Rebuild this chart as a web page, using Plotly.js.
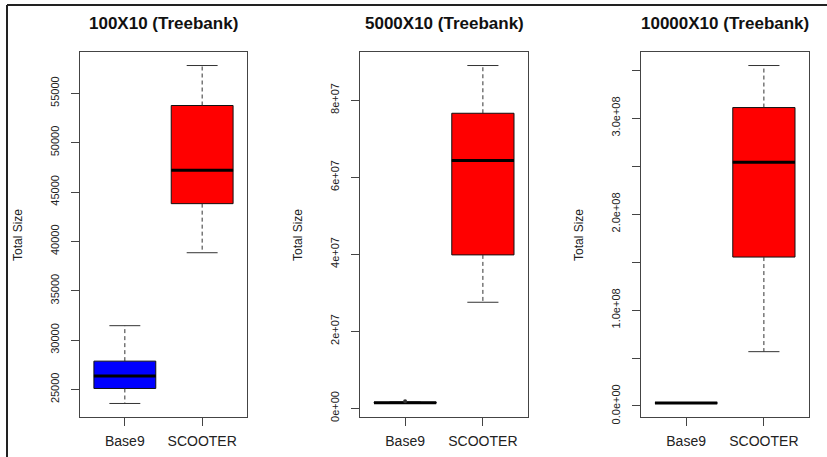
<!DOCTYPE html>
<html>
<head>
<meta charset="utf-8">
<script src="https://cdn.plot.ly/plotly-3.0.1.min.js"></script>
<style>html,body{margin:0;padding:0;background:#fff;}#chart{width:827px;height:457px;}</style>
</head>
<body>
<div id="chart"></div>
<script>
// ---- data ----
const categories = ['Base9', 'SCOOTER'];
const panelTitles = ['100X10 (Treebank)', '5000X10 (Treebank)', '10000X10 (Treebank)'];
const yTitle = 'Total Size';

// per panel, per category: [lower whisker, Q1, median, Q3, upper whisker]
const stats100 = [
  [23580, 25100, 26360, 27870, 31460],
  [38850, 43820, 47200, 53760, 57810]
];
const stats5000 = [
  [1.2e6, 1.3e6, 1.4e6, 1.5e6, 1.6e6],
  [2.75e7, 3.98e7, 6.43e7, 7.66e7, 8.90e7]
];
const stats10000 = [
  [2.6e6, 2.9e6, 3.1e6, 3.3e6, 3.5e6],
  [5.66e7, 1.552e8, 2.54e8, 3.11e8, 3.548e8]
];
// outliers: [categoryIndex, value]
const outliers100 = [];
const outliers5000 = [[0, 1.8e6]];
const outliers10000 = [];

const tickVals100 = [25000, 30000, 35000, 40000, 45000, 50000, 55000];
const tickText100 = ['25000', '30000', '35000', '40000', '45000', '50000', '55000'];
const tickVals5000 = [0, 2e7, 4e7, 6e7, 8e7];
const tickText5000 = ['0e+00', '2e+07', '4e+07', '6e+07', '8e+07'];
const tickVals10000 = [0, 5e7, 1e8, 1.5e8, 2e8, 2.5e8, 3e8, 3.5e8];
const tickText10000 = ['0.0e+00', '', '1.0e+08', '', '2.0e+08', '', '3.0e+08', ''];

const boxColors = ['#0000FF', '#FF0000'];

// ---- layout helpers ----
const W = 827, H = 457;
const panels = [
  {stats: stats100, outl: outliers100, tv: tickVals100, tt: tickText100, px: [80, 247]},
  {stats: stats5000, outl: outliers5000, tv: tickVals5000, tt: tickText5000, px: [360, 528]},
  {stats: stats10000, outl: outliers10000, tv: tickVals10000, tt: tickText10000, px: [641, 809]}
];
const plotTop = 52, plotBottom = 417;
const yDomain = [1 - plotBottom / H, 1 - plotTop / H];
const FONT = 'Liberation Sans, Arial, Helvetica, sans-serif';
const BW = 0.8;

const data = [];
const layout = {
  width: W, height: H,
  margin: {l: 0, r: 0, t: 0, b: 0},
  paper_bgcolor: '#fff', plot_bgcolor: '#fff',
  showlegend: false,
  font: {family: FONT, color: '#222'},
  annotations: [],
  shapes: [
    {type: 'line', xref: 'paper', yref: 'paper', x0: 7 / W, x1: 7 / W, y0: 0, y1: 1 - 5 / H, line: {color: '#222', width: 2}},
    {type: 'line', xref: 'paper', yref: 'paper', x0: 7 / W, x1: 1, y0: 1 - 5 / H, y1: 1 - 5 / H, line: {color: '#222', width: 2}}
  ]
};

panels.forEach((p, i) => {
  const n = i === 0 ? '' : String(i + 1);
  const xa = 'x' + n, ya = 'y' + n;
  // boxes
  p.stats.forEach((s, c) => {
    data.push({
      type: 'box', xaxis: xa, yaxis: ya, x: [c + 1],
      q1: [s[1]], median: [s[2]], q3: [s[3]], lowerfence: [s[1]], upperfence: [s[3]],
      width: BW, whiskerwidth: 0, boxpoints: false,
      fillcolor: boxColors[c], line: {color: '#111', width: 1},
      hoverinfo: 'skip'
    });
  });
  // whiskers (dashed), caps, medians
  const wx = [], wy = [], cx = [], cy = [], mx = [], my = [];
  p.stats.forEach((s, c) => {
    const x = c + 1;
    wx.push(x, x, null, x, x, null); wy.push(s[3], s[4], null, s[1], s[0], null);
    cx.push(x - BW / 4, x + BW / 4, null, x - BW / 4, x + BW / 4, null);
    cy.push(s[4], s[4], null, s[0], s[0], null);
    mx.push(x - BW / 2, x + BW / 2, null); my.push(s[2], s[2], null);
  });
  data.push({type: 'scatter', mode: 'lines', xaxis: xa, yaxis: ya, x: wx, y: wy,
    line: {color: '#333', width: 1, dash: '4px,3px'}, hoverinfo: 'skip'});
  data.push({type: 'scatter', mode: 'lines', xaxis: xa, yaxis: ya, x: cx, y: cy,
    line: {color: '#333', width: 1}, hoverinfo: 'skip'});
  data.push({type: 'scatter', mode: 'lines', xaxis: xa, yaxis: ya, x: mx, y: my,
    line: {color: '#000', width: 3}, hoverinfo: 'skip'});
  if (p.outl.length) {
    data.push({type: 'scatter', mode: 'markers', xaxis: xa, yaxis: ya,
      x: p.outl.map(o => o[0] + 1), y: p.outl.map(o => o[1]),
      marker: {symbol: 'circle', size: 4, color: '#333'}, hoverinfo: 'skip'});
  }
  // R-style axis range: data extent + 4%
  const vals = [];
  p.stats.forEach(s => vals.push(...s));
  p.outl.forEach(o => vals.push(o[1]));
  const lo = Math.min(...vals), hi = Math.max(...vals), sp = hi - lo;

  layout['xaxis' + n] = {
    domain: [p.px[0] / W, p.px[1] / W], anchor: ya,
    range: [0.5 - 0.04 * 2, 2.5 + 0.04 * 2],
    tickvals: [1, 2], ticktext: categories,
    ticks: 'outside', ticklen: 8, tickcolor: '#444', tickwidth: 1,
    ticklabelstandoff: 3,
    showline: true, mirror: true, linecolor: '#444', linewidth: 1,
    showgrid: false, zeroline: false, fixedrange: true,
    tickfont: {size: 14, color: '#222', family: FONT}
  };
  layout['yaxis' + n] = {
    domain: yDomain, anchor: xa,
    range: [lo - 0.04 * sp, hi + 0.04 * sp],
    tickvals: p.tv, ticktext: p.tt, tickangle: -90,
    ticks: 'outside', ticklen: 8, tickcolor: '#444', tickwidth: 1,
    ticklabelstandoff: 8,
    showline: true, mirror: true, linecolor: '#444', linewidth: 1,
    showgrid: false, zeroline: false, fixedrange: true,
    tickfont: {size: 11, color: '#222', family: FONT}
  };
  const cxp = (p.px[0] + p.px[1]) / 2 / W;
  layout.annotations.push({
    xref: 'paper', yref: 'paper', x: cxp, y: 1 - 24 / H, xanchor: 'center', yanchor: 'middle',
    text: '<b>' + panelTitles[i] + '</b>', showarrow: false,
    font: {size: 17, color: '#111', family: FONT}
  });
  layout.annotations.push({
    xref: 'paper', yref: 'paper', x: (p.px[0] - 62) / W, y: 1 - 235 / H, xanchor: 'center', yanchor: 'middle',
    text: yTitle, textangle: -90, showarrow: false,
    font: {size: 12, color: '#222', family: FONT}
  });
});

Plotly.newPlot('chart', data, layout, {displayModeBar: false, staticPlot: true});
</script>
</body>
</html>
